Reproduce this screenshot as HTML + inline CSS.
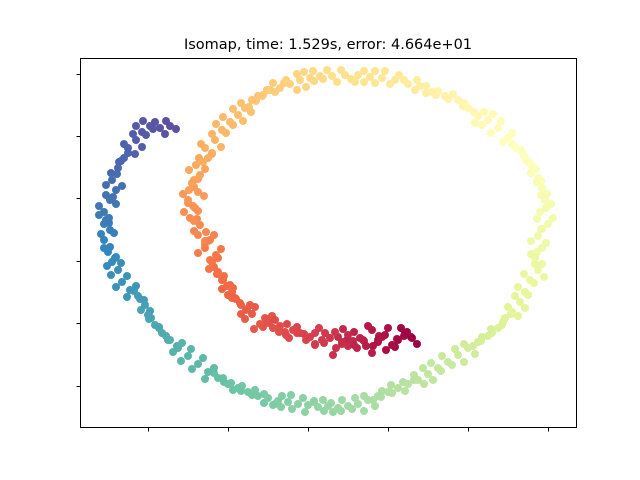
<!DOCTYPE html>
<html><head><meta charset="utf-8"><style>
body{margin:0;background:#fff;}
svg{display:block;}
</style></head><body>
<svg id="chart" width="640" height="480" xmlns="http://www.w3.org/2000/svg">
<rect width="640" height="480" fill="#fff"/>
<text x="328" y="49" text-anchor="middle" font-family="DejaVu Sans, Liberation Sans, sans-serif" font-size="14.5" fill="#000">Isomap, time: 1.529s, error: 4.664e+01</text>
<g id="points"></g>
<rect x="80.5" y="58.5" width="496" height="369" fill="none" stroke="#000" stroke-width="1"/>
<g id="ticks"></g>
</svg>
<script>
const xTicks=[-160,-80,0,80,160,240];
const yTicks=[-63,0,62,125,187,249];
const xs=[104,97,90,84,77,70,64,58,52,46,40,34,28,22,14,7,0,-8,-15,-22,-28,-35,-42,-48,-56,-62,-68,-73,-80,-78,-86,-90,-96,-92,-103,-98,-110,-108,-118,-113,-120,-110,-116,-108,-112,-100,-103,-93,-86,-78,-70,-63,-56,-46,-38,-28,-18,-8,2,12,24,37,50,62,74,87,100,112,124,137,150,160,170,180,190,200,208,216,224,230,234,237,232,240,230,234,227,230,222,217,212,204,197,190,180,170,160,150,140,130,120,110,100,90,80,70,60,50,40,30,20,10,0,-10,-20,-30,-40,-50,-60,-70,-80,-90,-100,-110,-120,-130,-138,-146,-153,-160,-163,-170,-178,-186,-190,-196,-200,-204,-198,-202,-204,-198,-192,-196,-190,-184,-180,-172,-166,-158,-148,-138];
const ys=[-15,-10,-17,-22,-12,-19,-7,-23,-15,-22,-12,-19,-25,-15,-17,-10,-15,-10,-7,-12,-3,-5,3,-1,9,13,20,25,28,38,43,51,61,68,75,83,88,98,105,115,123,131,140,148,158,165,175,183,193,201,208,215,223,227,233,235,239,243,245,247,247,248,248,246,245,243,239,237,231,227,223,215,207,203,195,185,175,167,157,145,135,123,111,99,87,75,65,53,43,31,21,11,5,-5,-13,-19,-25,-32,-39,-45,-51,-57,-61,-65,-69,-73,-77,-81,-83,-85,-83,-84,-82,-81,-79,-78,-75,-73,-69,-65,-61,-55,-49,-41,-33,-25,-17,-10,-2,8,18,27,33,41,53,61,71,83,93,103,111,123,133,143,155,165,175,183,191,197,195,197];
const xs2=[109,93,96,78,80,65,71,55,56,39,45,30,34,16,17,2,7,-11,-11,-29,-23,-39,-36,-54,-53,-67,-61,-76,-76,-85,-81,-94,-90,-98,-100,-103,-103,-111,-114,-120,-115,-114,-110,-114,-109,-105,-96,-96,-82,-85,-65,-67,-50,-52,-35,-33,-11,-11,6,5,29,33,56,56,77,82,107,109,128,130,155,156,176,174,193,195,215,213,228,223,239,233,238,234,233,229,234,227,226,210,217,200,203,184,183,165,167,147,144,123,125,106,106,84,83,65,67,47,44,23,25,6,6,-16,-17,-35,-33,-53,-56,-77,-75,-94,-94,-116,-117,-135,-131,-149,-149,-167,-158,-174,-172,-192,-187,-201,-193,-207,-194,-209,-199,-202,-186,-202,-187,-189,-173,-175,-162,-165,-143,-142];
const ys2=[-21,-5,-13,-27,-5,-23,-13,-17,-18,-17,-18,-14,-21,-20,-10,-14,-21,-4,-10,-7,-9,0,7,-6,16,9,14,31,25,43,37,56,65,63,82,79,82,104,102,120,117,136,144,143,165,161,169,189,190,206,202,220,227,222,240,231,233,249,242,252,241,253,252,241,252,239,233,243,228,232,217,220,211,198,202,181,169,173,154,150,129,128,115,94,94,71,59,59,40,36,15,16,9,-10,-6,-23,-31,-26,-42,-40,-57,-52,-57,-70,-62,-77,-83,-75,-86,-80,-89,-79,-78,-86,-72,-82,-81,-67,-72,-60,-67,-50,-45,-46,-26,-29,-23,-4,-5,13,12,32,37,36,60,57,65,89,90,108,105,128,137,138,162,161,169,189,188,202,189,202];
const xs3=[99,103,87,89,70,74,60,64,46,49,35,40,25,27,7,11,-4,-2,-21,-19,-33,-29,-45,-43,-63,-58,-72,-67,-86,-75,-91,-84,-99,-87,-110,-94,-114,-102,-124,-110,-125,-104,-119,-103,-119,-96,-107,-87,-92,-75,-75,-57,-59,-41,-45,-24,-22,-2,-4,15,19,43,47,67,67,91,96,118,118,140,145,166,167,185,183,204,204,222,218,233,229,243,229,245,223,238,223,236,216,220,207,210,194,195,173,174,156,156,134,133,115,116,97,95,73,74,56,56,34,33,15,16,-3,-5,-27,-26,-44,-44,-66,-67,-85,-84,-103,-105,-127,-126,-142,-140,-159,-157,-168,-164,-181,-181,-197,-192,-204,-198,-204,-199,-209,-192,-195,-191,-197,-180,-184,-166,-172,-155,-153,-132];
const ys3=[-9,-14,-24,-16,-17,-14,-3,-30,-9,-25,-6,-23,-32,-9,-22,-5,-11,-17,-1,-15,3,-9,-4,5,4,18,24,18,34,35,49,47,54,74,70,88,92,91,111,112,129,127,133,154,153,170,179,176,199,198,214,211,216,233,228,240,243,236,251,244,253,244,241,252,240,248,243,230,237,224,229,211,200,209,190,190,179,160,163,142,141,119,104,105,82,80,69,46,49,28,27,7,-2,1,-18,-14,-21,-39,-33,-48,-45,-61,-68,-59,-74,-68,-73,-88,-77,-88,-77,-88,-89,-75,-84,-73,-71,-80,-63,-68,-55,-59,-56,-35,-38,-20,-13,-17,4,5,24,23,26,47,48,66,75,76,99,100,117,119,126,149,150,170,179,176,197,194,201,194];
const xMin=-228,xMax=268,yMin=-104,yMax=265;
const L=80,R=576,T=58,B=427;
function xScale(v){return L+(v-xMin)/(xMax-xMin)*(R-L);}
function yScale(v){return B-(v-yMin)/(yMax-yMin)*(B-T);}
const stops=["#9e0142","#d53e4f","#f46d43","#fdae61","#fee08b","#ffffbf","#e6f598","#abdda4","#66c2a5","#3288bd","#5e4fa2"];
function hex(h){return [1,3,5].map(i=>parseInt(h.substr(i,2),16));}
function spectral(t){const p=Math.max(0,Math.min(1,t))*10,i=Math.min(9,Math.floor(p)),f=p-i;const a=hex(stops[i]),b=hex(stops[i+1]);return 'rgb('+a.map((c,k)=>Math.round(c+(b[k]-c)*f)).join(',')+')';}
const NS='http://www.w3.org/2000/svg';
const g=document.getElementById('points');
function drawSet(X,Y){
  const n=Math.min(X.length,Y.length);
  for(let i=0;i<n;i++){
    const c=document.createElementNS(NS,'circle');
    c.setAttribute('cx',xScale(X[i]));c.setAttribute('cy',yScale(Y[i]));c.setAttribute('r',4);
    c.setAttribute('fill',spectral(i/(n-1)));
    
    
    g.appendChild(c);
  }
}
drawSet(xs2,ys2);drawSet(xs3,ys3);drawSet(xs,ys);
const tg=document.getElementById('ticks');
xTicks.forEach(v=>{const l=document.createElementNS(NS,'line');const x=Math.round(xScale(v))+0.5;
  l.setAttribute('x1',x);l.setAttribute('x2',x);l.setAttribute('y1',B+0.5);l.setAttribute('y2',B+4.5);l.setAttribute('stroke','#000');
  
  
  tg.appendChild(l);});
yTicks.forEach(v=>{const l=document.createElementNS(NS,'line');const y=Math.round(yScale(v))+0.5;
  l.setAttribute('x1',L+0.5);l.setAttribute('x2',L-3.5);l.setAttribute('y1',y);l.setAttribute('y2',y);l.setAttribute('stroke','#000');
  
  
  tg.appendChild(l);});
</script>
</body></html>
